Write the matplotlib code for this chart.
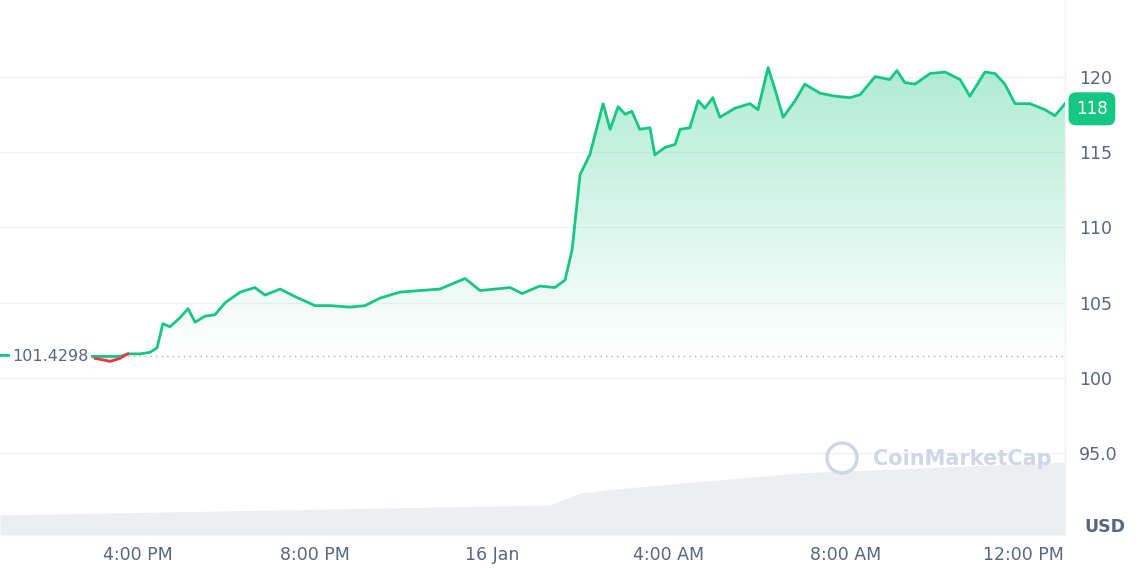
import numpy as np
import matplotlib
matplotlib.use('Agg')
import matplotlib.pyplot as plt
from matplotlib.patches import Polygon, Ellipse

# hours relative to 4:00 PM on 15 Jan
hours = [-3.12, -0.97, -0.63, -0.41, -0.23, 0.05, 0.27, 0.43, 0.56, 0.72, 0.95, 1.13, 1.29, 1.51,
         1.74, 1.97, 2.31, 2.64, 2.87, 3.21, 3.55, 4.0, 4.34, 4.79, 5.13, 5.47, 5.92, 6.37, 6.82,
         7.39, 7.73, 8.07, 8.41, 8.68, 9.08, 9.42, 9.65, 9.81, 9.99, 10.21, 10.51, 10.67, 10.85,
         11.01, 11.16, 11.34, 11.57, 11.68, 11.91, 12.14, 12.25, 12.47, 12.66, 12.81, 12.99, 13.15,
         13.49, 13.83, 14.01, 14.24, 14.4, 14.58, 14.85, 15.07, 15.41, 15.75, 16.09, 16.32, 16.66,
         16.99, 17.15, 17.33, 17.56, 17.9, 18.24, 18.58, 18.8, 19.14, 19.37, 19.59, 19.82, 20.16,
         20.5, 20.72, 20.95]
price = [101.5, 101.3, 101.1, 101.3, 101.6, 101.6, 101.7, 102.0, 103.6, 103.4, 104.0, 104.6, 103.7,
         104.1, 104.2, 105.0, 105.7, 106.0, 105.5, 105.9, 105.4, 104.8, 104.8, 104.7, 104.8, 105.3,
         105.7, 105.8, 105.9, 106.6, 105.8, 105.9, 106.0, 105.6, 106.1, 106.0, 106.5, 108.5, 113.5,
         114.8, 118.2, 116.5, 118.0, 117.5, 117.7, 116.5, 116.6, 114.8, 115.3, 115.5, 116.5, 116.6,
         118.4, 117.9, 118.6, 117.3, 117.9, 118.2, 117.8, 120.6, 119.1, 117.3, 118.4, 119.5, 118.9,
         118.7, 118.6, 118.8, 120.0, 119.8, 120.4, 119.6, 119.5, 120.2, 120.3, 119.8, 118.7, 120.3,
         120.2, 119.5, 118.2, 118.2, 117.8, 117.4, 118.2]
vol_hours = [-3.12, 9.3, 10.0, 10.8, 14.9, 20.95]
volume = [20, 30, 42, 46, 62, 73]

open_price = 101.4298
yticks = [95, 100, 105, 110, 115, 120]
ytick_labels = ['95.0', '100', '105', '110', '115', '120']
xticks = [0, 4, 8, 12, 16, 20]
xtick_labels = ['4:00 PM', '8:00 PM', '16 Jan', '4:00 AM', '8:00 AM', '12:00 PM']

green = '#16c784'
red = '#ea3943'
grey = '#58667e'
x0, x1 = -3.12, 20.95
y0, y1 = 89.58, 125.08

fig = plt.figure(figsize=(11.4, 5.68), dpi=100)
pos = [0, 1 - 535 / 568, 1065 / 1140, 535 / 568]

vax = fig.add_axes(pos)
vax.fill_between(vol_hours, 0, volume, color='#eceef2', lw=0)
vax.set_xlim(x0, x1)
vax.set_ylim(0, 535)
vax.axis('off')

ax = fig.add_axes(pos)
ax.patch.set_alpha(0)
ax.set_xlim(x0, x1)
ax.set_ylim(y0, y1)

for t in yticks:
    ax.axhline(t, color='#eff2f5', lw=1, zorder=0)
ax.axvline(x1, color='#eff2f5', lw=1, clip_on=False)

h = np.array(hours)
p = np.array(price)
# gradient fill above open price
grad = np.linspace(0, 1, 256).reshape(-1, 1)
cm = matplotlib.colors.LinearSegmentedColormap.from_list('g', [(0.086, 0.78, 0.52, 0.0), (0.086, 0.78, 0.52, 0.35)])
im = ax.imshow(grad, extent=[x0, x1, open_price, 121], origin='lower', cmap=cm, aspect='auto', zorder=1)
poly = Polygon(np.column_stack([np.r_[h, h[-1], h[0]], np.r_[np.maximum(p, open_price), open_price, open_price]]),
               closed=True, transform=ax.transData, facecolor='none', edgecolor='none')
ax.add_patch(poly)
im.set_clip_path(poly)
ax.fill_between(h, p, open_price, where=p < open_price, color=red, alpha=0.15, lw=0, interpolate=True)

ax.plot(h, np.where(p >= open_price, p, open_price), color=green, lw=2.0, zorder=3)
mask = (h > -1.2) & (h < 0.0)
ax.plot(h[mask], p[mask], color=red, lw=2.0, zorder=4)
ax.axhline(open_price, color='#a6b0c3', lw=1, ls=(0, (1, 3)), zorder=2)

ax.set_xticks(xticks)
ax.set_xticklabels(xtick_labels)
ax.set_yticks(yticks)
ax.set_yticklabels(ytick_labels)
ax.yaxis.tick_right()
ax.tick_params(length=0, colors=grey, labelsize=12.5)
ax.tick_params(axis='y', pad=10)
ax.tick_params(axis='x', pad=8)
for s in ax.spines.values():
    s.set_visible(False)

ax.text(-2.85, open_price, '101.4298', color=grey, fontsize=11.5, va='center', ha='left',
        bbox=dict(boxstyle='square,pad=0.15', fc='white', ec='none'), zorder=5)
ax.text(x1 + 0.25, 117.86, '118', color='white', fontsize=12, va='center', ha='left', zorder=6,
        bbox=dict(boxstyle='round,pad=0.45', fc=green, ec='none'), clip_on=False)
fig.text(1105 / 1140, 1 - 527 / 568, 'USD', color=grey, fontsize=12.5, fontweight='bold', ha='center', va='center')

# watermark
fig.text(873 / 1140, 1 - 459 / 568, 'CoinMarketCap', color='#cfd6e4', fontsize=15, fontweight='bold', ha='left', va='center')
fig.patches.append(Ellipse((842 / 1140, 1 - 458 / 568), 30 / 1140, 30 / 568, transform=fig.transFigure,
                           fc='none', ec='#cfd6e4', lw=2.5))

fig.savefig('out.png', dpi=100)
